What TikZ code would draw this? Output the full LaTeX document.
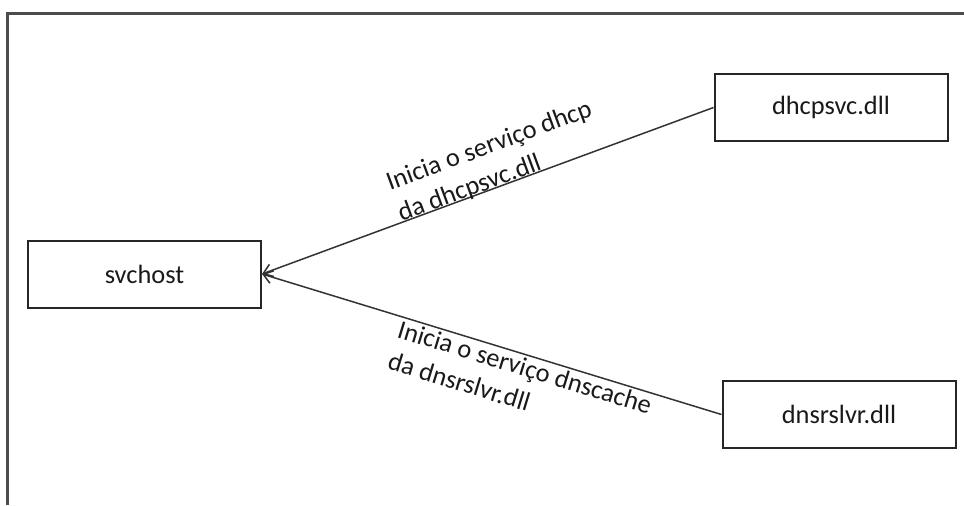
\documentclass[tikz,border=0pt]{standalone}
\usepackage{fontspec}
\setmainfont{Carlito}
\usetikzlibrary{arrows.meta}

\begin{document}
\begin{tikzpicture}[x=.5pt, y=-.5pt,
    every node/.style={font=\fontsize{13.2}{16.5}\selectfont, text=black!90},
    box/.style={draw=black!85, line width=1pt, minimum width=116.5pt, minimum height=33.5pt, inner sep=0pt},
    link/.style={draw=black!80, line width=.75pt, {Straight Barb[length=4.5pt,width=6.5pt]}-},
    note/.style={sloped, align=left, inner sep=0pt}]
    \useasboundingbox (0,0) rectangle (964,505);
    % open frame, top and left side only
    \draw[line width=1.2pt, black!70] (7.5,505) -- (7.5,13.5) -- (964,13.5);

    \node[box] (svchost) at (144.5,274) {svchost};
    \node[box] (dhcp) at (831,107.5) {dhcpsvc.dll};
    \node[box] (dns) at (839,414.5) {dnsrslvr.dll};

    \draw[link] (svchost.east) -- node[note, above=-2pt, pos=.535] {Inicia o serviço dhcp\\da dhcpsvc.dll} (dhcp.west);
    \draw[link] (svchost.east) -- node[note, below=1pt, pos=.58] {Inicia o serviço dnscache\\da dnsrslvr.dll} (dns.west);
  \end{tikzpicture}
\end{document}
